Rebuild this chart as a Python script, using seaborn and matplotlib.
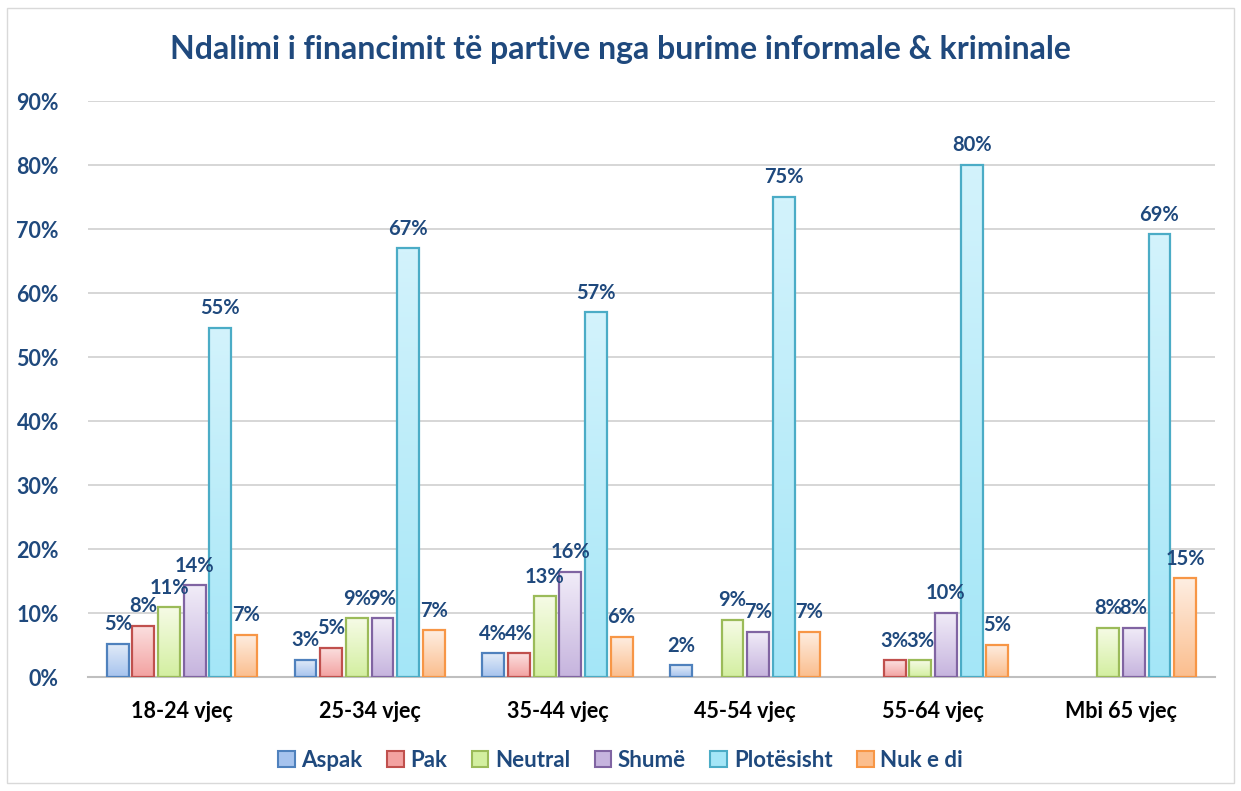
import numpy as np
import pandas as pd
import matplotlib
matplotlib.use("Agg")
import matplotlib.pyplot as plt
from matplotlib.colors import LinearSegmentedColormap
from matplotlib.patches import Rectangle
import seaborn as sns

# te dhenat (perqindje)
grupmosha = ["18-24 vjeç", "25-34 vjeç", "35-44 vjeç", "45-54 vjeç", "55-64 vjeç", "Mbi 65 vjeç"]
pergjigjet = ["Aspak", "Pak", "Neutral", "Shumë", "Plotësisht", "Nuk e di"]

aspak = [5.2, 2.7, 3.7, 1.8, 0, 0]
pak = [8.0, 4.6, 3.7, 0, 2.6, 0]
neutral = [10.9, 9.2, 12.6, 8.9, 2.6, 7.7]
shume = [14.3, 9.2, 16.4, 7.1, 10.0, 7.7]
plotesisht = [54.6, 67.0, 57.0, 75.0, 80.0, 69.2]
nuk_e_di = [6.6, 7.3, 6.3, 7.1, 5.0, 15.4]

# ngjyrat: kufiri, lart, poshte
ngjyrat = {
    "Aspak": ("#4F81BD", "#E3ECF8", "#A6C3EE"),
    "Pak": ("#C0504D", "#FBE0E0", "#F3A2A1"),
    "Neutral": ("#9BBB59", "#F6FBE6", "#D3EFA0"),
    "Shumë": ("#8064A2", "#F1ECF8", "#C6B4DE"),
    "Plotësisht": ("#4BACC6", "#D3F3FC", "#A4E6F7"),
    "Nuk e di": ("#F79646", "#FEEEE2", "#FBBE8E"),
}
blu = "#1F497D"

seritë = [aspak, pak, neutral, shume, plotesisht, nuk_e_di]
df = pd.DataFrame({
    "mosha": grupmosha * len(pergjigjet),
    "pergjigja": np.repeat(pergjigjet, len(grupmosha)),
    "vlera": np.concatenate(seritë),
})

sns.set_theme(style="white")
plt.rcParams["font.family"] = ["Lato", "DejaVu Sans"]

fig = plt.figure(figsize=(12.41, 7.91), dpi=100)
ax = fig.add_axes([0.0709, 0.1441, 0.908, 0.7282])

sns.barplot(data=df, x="mosha", y="vlera", hue="pergjigja", order=grupmosha,
            hue_order=pergjigjet, width=0.82, gap=0.15, legend=False, ax=ax,
            errorbar=None)

ax.set_ylim(0, 90)
xlim = ax.get_xlim()

n = len(grupmosha)
for i, patch in enumerate(ax.patches):
    emri = pergjigjet[i // n]
    kufi, lart, poshte = ngjyrat[emri]
    h = patch.get_height()
    if h <= 0:
        patch.set_visible(False)
        continue
    x0 = patch.get_x()
    w = patch.get_width()
    cmap = LinearSegmentedColormap.from_list(emri, [poshte, lart])
    grad = np.linspace(1, 0, 100).reshape(-1, 1)
    im = ax.imshow(grad, extent=[x0, x0 + w, 0, h], aspect="auto", cmap=cmap,
                   vmin=0, vmax=1, zorder=2, origin="upper")
    im.set_clip_path(patch)
    patch.set_facecolor("none")
    patch.set_edgecolor(kufi)
    patch.set_linewidth(1.6)
    patch.set_zorder(3)
    ax.text(x0 + w / 2, h + 1.5, f"{h:.0f}%", ha="center", va="bottom",
            fontsize=14.5, fontweight="bold", color=blu, zorder=4)

ax.set_xlim(xlim)
ax.set_ylim(0, 90)

ax.set_yticks(range(0, 91, 10))
ax.set_yticklabels([f"{v}%" for v in range(0, 91, 10)], fontsize=15.5,
                   fontweight="bold", color=blu)
ax.tick_params(axis="x", labelsize=15.5, pad=17, length=0)
ax.tick_params(axis="y", length=0, pad=21)
for lab in ax.get_xticklabels():
    lab.set_fontweight("bold")
    lab.set_color("black")
ax.set_xlabel("")
ax.set_ylabel("")
ax.yaxis.grid(True, color="#D0D0D0", linewidth=1.2)
ax.set_axisbelow(True)
sns.despine(ax=ax, left=True, top=True, right=True)
ax.spines["bottom"].set_color("#BFBFBF")
ax.spines["bottom"].set_linewidth(1.5)

fig.suptitle("Ndalimi i financimit të partive nga burime informale & kriminale",
             x=0.5, y=0.937, va="center", fontsize=23, fontweight="bold", color=blu)

doreza = [Rectangle((0, 0), 1, 1, facecolor=ngjyrat[p][2], edgecolor=ngjyrat[p][0],
                    linewidth=1.5) for p in pergjigjet]
leg = fig.legend(doreza, pergjigjet, loc="center", bbox_to_anchor=(0.5, 0.039),
                 ncol=6, frameon=False, handlelength=0.75, handleheight=0.75,
                 handletextpad=0.3, columnspacing=1.1,
                 prop={"size": 16, "weight": "bold"})
for t in leg.get_texts():
    t.set_color(blu)

fig.patches.append(Rectangle((0.006, 0.01), 0.988, 0.98, transform=fig.transFigure,
                             fill=False, edgecolor="#D9D9D9", linewidth=1))

fig.savefig("out.png", dpi=100)
